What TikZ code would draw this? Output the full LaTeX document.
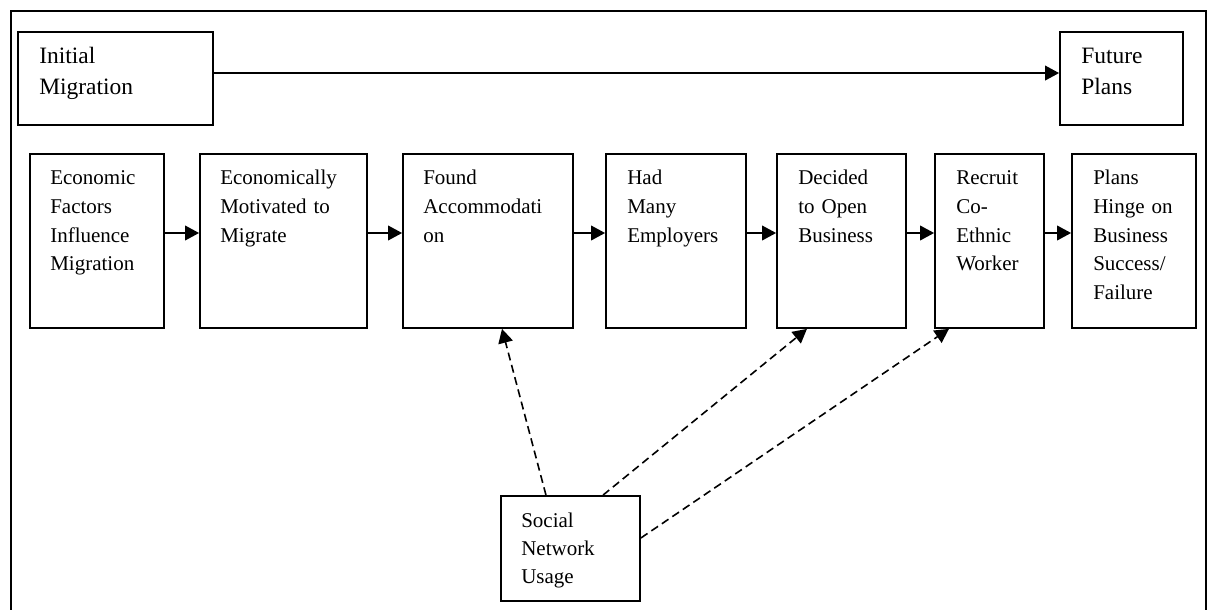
\documentclass[tikz,border=0pt]{standalone}
\usepackage{fontspec}
\setmainfont{Liberation Serif}
\usetikzlibrary{arrows.meta,fit}
\begin{document}
\begin{tikzpicture}[x=0.75pt,y=-0.75pt,
  box/.style={draw,line width=1.35pt,inner sep=0pt},
  txt/.style={anchor=base west,inner sep=0pt,text width=150pt,align=left,
    font=\fontsize{15.75}{21.5}\selectfont},
  toptxt/.style={txt,font=\fontsize{17.6}{23.25}\selectfont},
  sntxt/.style={txt,font=\fontsize{15.75}{21}\selectfont},
  arr/.style={line width=1.2pt,-{Triangle[length=10.5pt,width=11pt]}},
  darr/.style={arr,dash pattern=on 6pt off 3.5pt},
  frame/.style={line width=1.6pt}]
\useasboundingbox (0,0) rectangle (1211,610);
\draw[frame] (11,610) -- (11,11) -- (1206,11) -- (1206,610);
% top boxes
\node[box,fit={(18,32) (213,125)}] (im) {};
\node[toptxt] (imt) at (39,64) {Initial\\Migration};
\node[box,fit={(1060,32) (1183,125)}] (fp) {};
\node[toptxt] (fpt) at (1081,64) {Future\\Plans};
% row boxes
\node[box,fit={(30,154) (164,328)}] (b1) {};
\node[txt] (t1) at (50,185) {Economic\\Factors\\Influence\\Migration};
\node[box,fit={(200,154) (367,328)}] (b2) {};
\node[txt] (t2) at (220,185) {Economically\\Motivated to\\Migrate};
\node[box,fit={(403,154) (573,328)}] (b3) {};
\node[txt] (t3) at (423,185) {Found\\Accommodati\\on};
\node[box,fit={(606,154) (746,328)}] (b4) {};
\node[txt] (t4) at (627,185) {Had\\Many\\Employers};
\node[box,fit={(777,154) (906,328)}] (b5) {};
\node[txt] (t5) at (798,185) {Decided\\to Open\\Business};
\node[box,fit={(935,154) (1044,328)}] (b6) {};
\node[txt] (t6) at (956,185) {Recruit\\Co-\\Ethnic\\Worker};
\node[box,fit={(1072,154) (1196,328)}] (b7) {};
\node[txt] (t7) at (1093,185) {Plans\\Hinge on\\Business\\Success/\\Failure};
% social network
\node[box,fit={(501,496) (640,601)}] (sn) {};
\node[sntxt] (snt) at (521,527) {Social\\Network\\Usage};
% arrows
\draw[arr] ([yshift=4.1pt]im.east) -- ([yshift=4.1pt]fp.west);
\draw[arr] ([yshift=6pt]b1.east) -- ([yshift=6pt]b2.west);
\draw[arr] ([yshift=6pt]b2.east) -- ([yshift=6pt]b3.west);
\draw[arr] ([yshift=6pt]b3.east) -- ([yshift=6pt]b4.west);
\draw[arr] ([yshift=6pt]b4.east) -- ([yshift=6pt]b5.west);
\draw[arr] ([yshift=6pt]b5.east) -- ([yshift=6pt]b6.west);
\draw[arr] ([yshift=6pt]b6.east) -- ([yshift=6pt]b7.west);
\draw[darr] ([xshift=-18.4pt]sn.north) -- ([xshift=10.5pt]b3.south);
\draw[darr] ([xshift=24.4pt]sn.north) -- ([xshift=-25.9pt]b5.south);
\draw[darr] ([yshift=7.9pt]sn.east) -- ([xshift=-30.4pt]b6.south);
\end{tikzpicture}
\end{document}
